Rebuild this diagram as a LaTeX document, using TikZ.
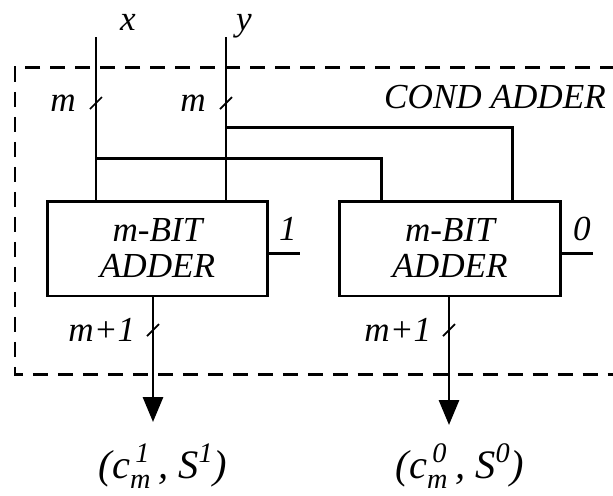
\documentclass[tikz,border=0pt]{standalone}
\usepackage{fontspec}
\usepackage{amsmath}
\setmainfont{Liberation Serif}
\usetikzlibrary{arrows.meta, positioning}
\tikzset{
  wire/.style   = {line width=1.7pt},
  adder/.style  = {rectangle, draw, line width=1.7pt,
                   minimum width=4.42cm, minimum height=1.9cm,
                   align=center, inner sep=0pt,
                   font=\fontsize{20}{20.5}\selectfont\itshape},
  frame/.style  = {line width=1.7pt, dash pattern=on 0.3cm off 0.2cm},
  outarr/.style = {wire, -{Triangle[length=0.5cm, width=0.4cm]}},
  busmark/.style = {line width=1pt},
  lbl/.style    = {font=\fontsize{20}{20.5}\selectfont\itshape, inner sep=0pt},
  reslbl/.style = {font=\fontsize{23}{24}\selectfont\itshape, inner sep=0pt},
}
\newcommand{\busslash}[1]{\draw[busmark] ([shift={(-6,6)}]#1) -- ([shift={(6,-6)}]#1);}
\newcommand{\cslab}[1]{(%
  $\textit{c}^{\,\textit{#1}}_{\textit{m}}$\,, S$^{\textit{#1}}$)}

\begin{document}
\begin{tikzpicture}[x=0.02cm, y=-0.02cm]
  \path[use as bounding box, clip] (0,0) rectangle (613,495);

  % dashed frame, open past the right edge
  \draw[frame] (640,67) -- (15,67) -- (15,374) -- (640,374);
  \node[lbl] (title) at (495,97) {COND ADDER};

  \node[adder] (add1) at (157.5,248.5) {m-BIT\\ADDER};
  \node[adder] (add0) at (450,248.5)   {m-BIT\\ADDER};

  % operand inputs
  \coordinate (xin) at (96,37);
  \coordinate (yin) at (226,37);
  \node[lbl, anchor=base] (xlab) at (128,30) {x};
  \node[lbl, anchor=base] (ylab) at (244,30) {y};
  \draw[wire] (xin) -- (xin |- add1.north);
  \draw[wire] (yin) -- (yin |- add1.north);

  \coordinate (xj) at (96,158);
  \coordinate (yj) at (226,127);
  \draw[wire] (xj) -| ([shift={(43,0)}]add0.north west);
  \draw[wire] (yj) -| ([shift={(-49,0)}]add0.north east);

  % bus widths
  \coordinate (bx) at (96,103);
  \coordinate (by) at (226,103);
  \busslash{bx}
  \busslash{by}
  \node[lbl, left=0.4cm of bx] (mx) {m};
  \node[lbl, left=0.4cm of by] (my) {m};

  % carry in
  \coordinate (c1) at (300,253);
  \coordinate (c0) at (593,253);
  \draw[wire] (add1.east |- c1) -- (c1);
  \draw[wire] (add0.east |- c0) -- (c0);
  \node[lbl, anchor=base] (cone)  at (288,240) {1};
  \node[lbl, anchor=base] (czero) at (582,240) {0};

  % results
  \coordinate (o1) at (153,422);
  \coordinate (o0) at (449,425);
  \draw[outarr] (add1.south -| o1) -- (o1);
  \draw[outarr] (add0.south -| o0) -- (o0);

  \coordinate (b1) at (153,330);
  \coordinate (b0) at (449,330);
  \busslash{b1}
  \busslash{b0}
  \node[lbl, left=0.35cm of b1] (w1) {m+1};
  \node[lbl, left=0.35cm of b0] (w0) {m+1};

  \node[reslbl, anchor=base] (s1) at (163,478) {\cslab{1}};
  \node[reslbl, anchor=base] (s0) at (460,478) {\cslab{0}};
\end{tikzpicture}
\end{document}
